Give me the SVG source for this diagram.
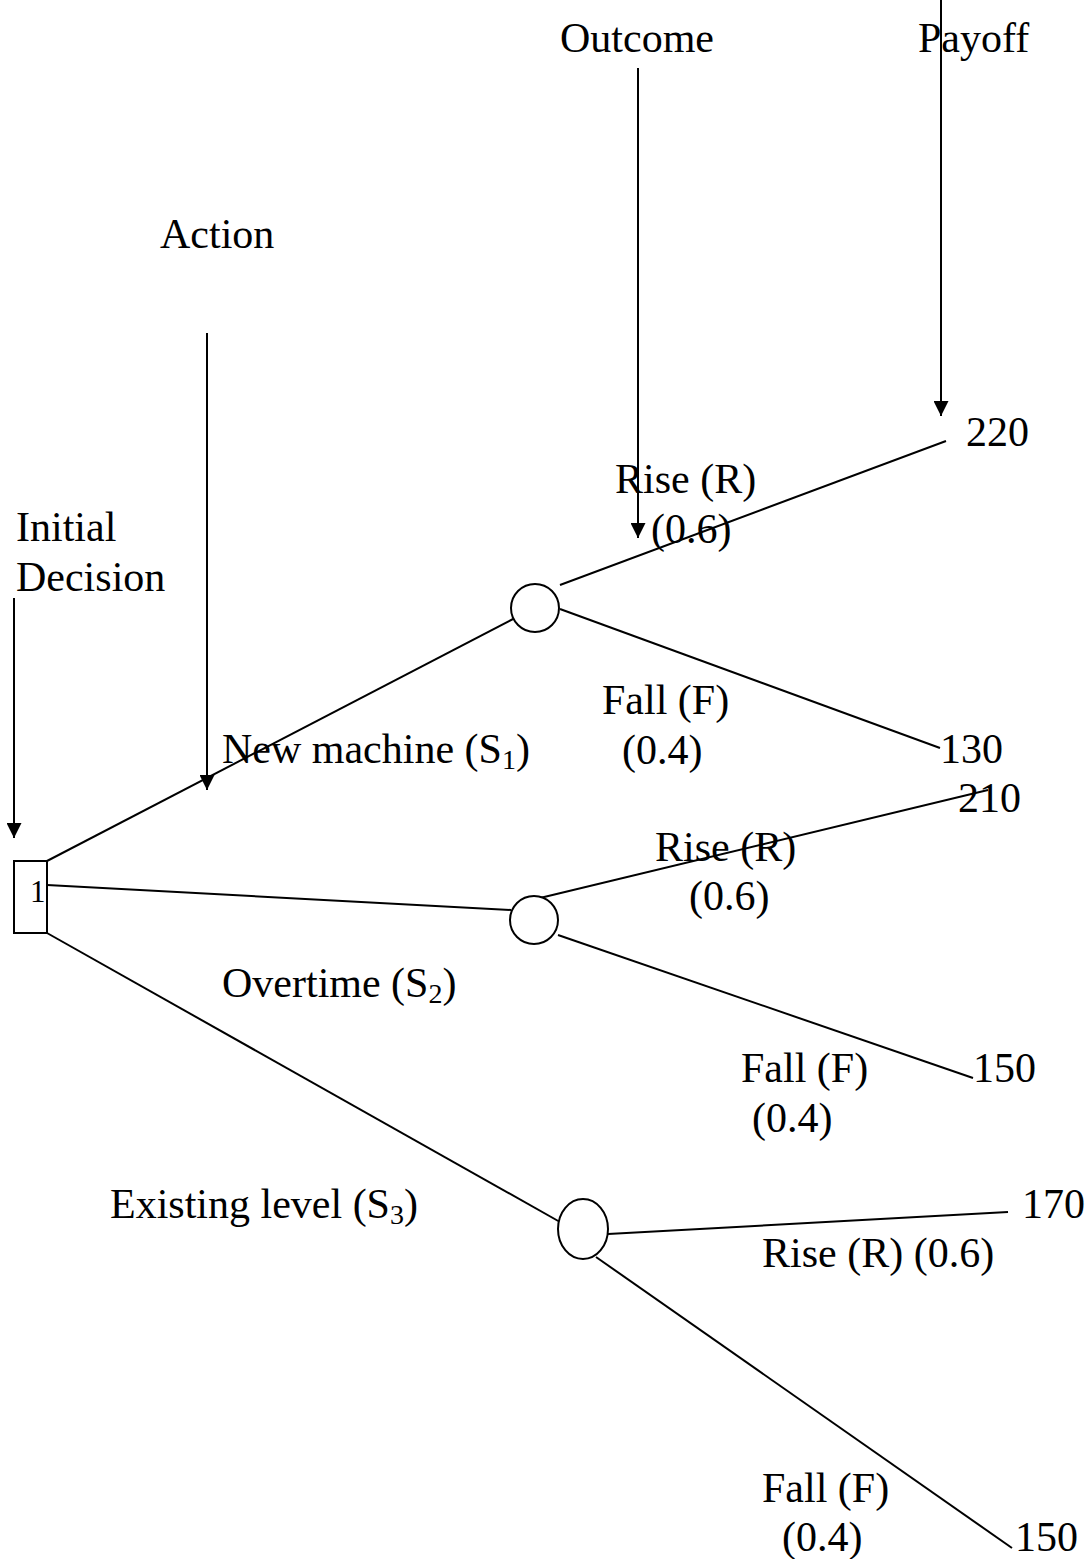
<svg xmlns="http://www.w3.org/2000/svg" width="1090" height="1559" viewBox="0 0 1090 1559">
<style>
text { font-family: "Liberation Serif", "Times New Roman", serif; font-size: 42px; fill: #000; }
.sub { font-size: 28px; }
.ln { stroke: #000; stroke-width: 2; fill: none; }
.node { stroke: #000; stroke-width: 2; fill: #fff; }
</style>
<defs>
<marker id="ah" viewBox="0 0 10 10" refX="10" refY="5" markerWidth="16" markerHeight="15" markerUnits="userSpaceOnUse" orient="auto">
<path d="M0,0 L10,5 L0,10 z" fill="#000"/>
</marker>
</defs>
<rect width="1090" height="1559" fill="#fff"/>
<g id="connectors">
<line class="ln" x1="47" y1="861" x2="513" y2="619"/>
<line class="ln" x1="47" y1="885" x2="511" y2="910"/>
<line class="ln" x1="47" y1="933" x2="560" y2="1222"/>
<line class="ln" x1="560" y1="585" x2="946" y2="441"/>
<line class="ln" x1="560" y1="609" x2="940" y2="748"/>
<line class="ln" x1="540" y1="898" x2="988" y2="790"/>
<line class="ln" x1="558" y1="935" x2="973" y2="1078"/>
<line class="ln" x1="608" y1="1234" x2="1008" y2="1212"/>
<line class="ln" x1="596" y1="1257" x2="1012" y2="1548"/>
<line class="ln" x1="14" y1="598" x2="14" y2="838" marker-end="url(#ah)"/>
<line class="ln" x1="207" y1="333" x2="207" y2="790" marker-end="url(#ah)"/>
<line class="ln" x1="638" y1="68" x2="638" y2="538" marker-end="url(#ah)"/>
<line class="ln" x1="941" y1="0" x2="941" y2="416" marker-end="url(#ah)"/>
</g>
<g id="decision1">
<rect class="node" x="14" y="861" width="33" height="72"/>
<text x="30" y="902" style="font-size:31px">1</text>
</g>
<g id="chance1"><circle class="node" cx="535" cy="608" r="24"/></g>
<g id="chance2"><circle class="node" cx="534" cy="920" r="24"/></g>
<g id="chance3"><ellipse class="node" cx="583" cy="1229" rx="25" ry="30"/></g>
<g id="labels">
<text x="560" y="52">Outcome</text>
<text x="918" y="52">Payoff</text>
<text x="160" y="248">Action</text>
<text x="16" y="541">Initial</text>
<text x="16" y="591">Decision</text>
<text x="966" y="446">220</text>
<text x="615" y="493">Rise (R)</text>
<text x="651" y="543">(0.6)</text>
<text x="602" y="714">Fall (F)</text>
<text x="622" y="764">(0.4)</text>
<text x="222" y="763">New machine (S<tspan class="sub" dy="6">1</tspan><tspan dy="-6">)</tspan></text>
<text x="940" y="763">130</text>
<text x="958" y="812">210</text>
<text x="655" y="861">Rise (R)</text>
<text x="689" y="910">(0.6)</text>
<text x="222" y="997">Overtime (S<tspan class="sub" dy="6">2</tspan><tspan dy="-6">)</tspan></text>
<text x="741" y="1082">Fall (F)</text>
<text x="752" y="1132">(0.4)</text>
<text x="973" y="1082">150</text>
<text x="110" y="1218">Existing level (S<tspan class="sub" dy="6">3</tspan><tspan dy="-6">)</tspan></text>
<text x="1022" y="1218">170</text>
<text x="762" y="1267">Rise (R) (0.6)</text>
<text x="762" y="1502">Fall (F)</text>
<text x="782" y="1551">(0.4)</text>
<text x="1015" y="1551">150</text>
</g>
</svg>
